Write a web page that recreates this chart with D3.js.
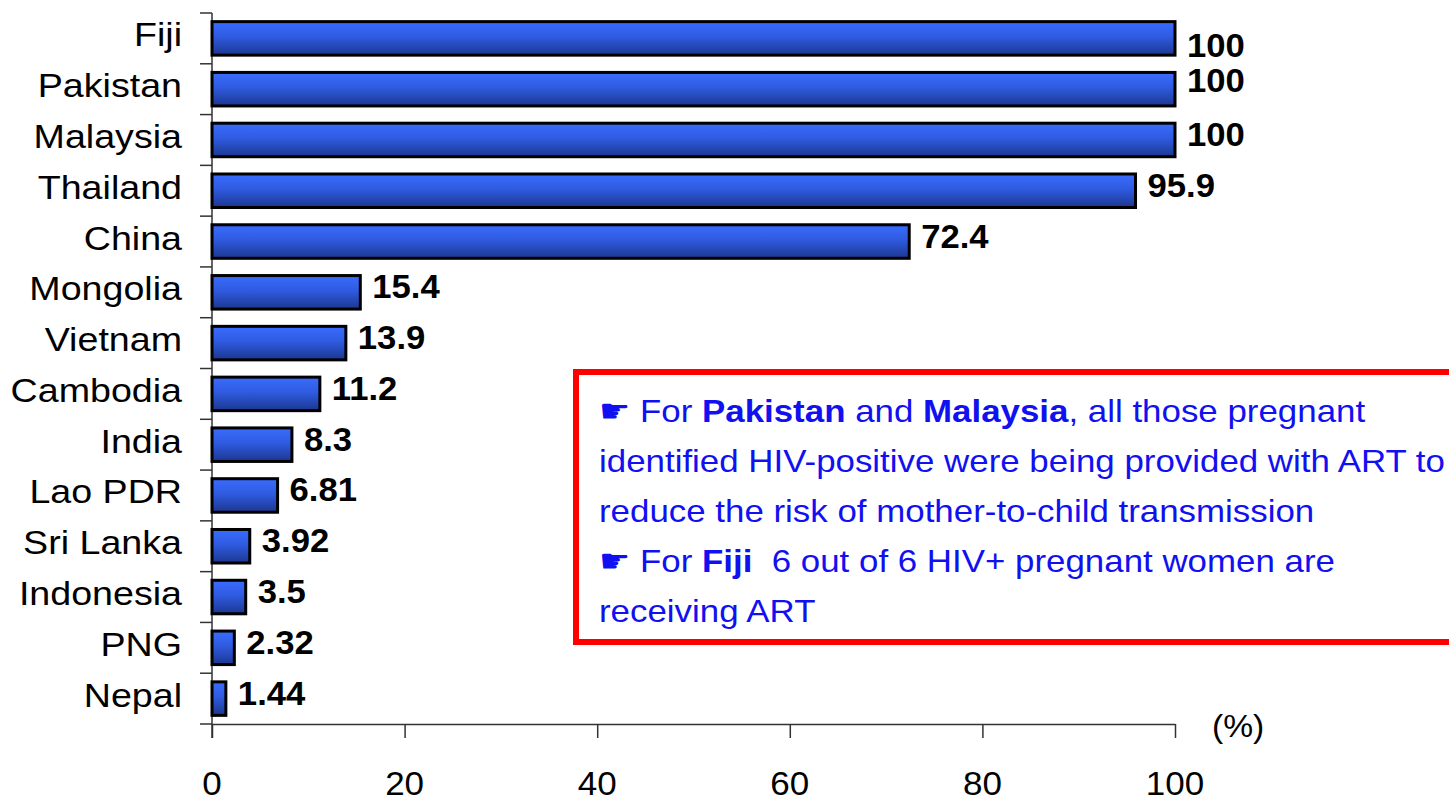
<head>
<script src="https://d3js.org/d3.v7.min.js"></script>
<style>
  body { margin: 0; background: #fff; }
  text { font-family: "Liberation Sans", Arial, sans-serif; }
  .axis line, .axis path { stroke: #333; stroke-width: 1.5; }
</style>
</head>
<body>
<script>
  // data
  const countries = ['Fiji', 'Pakistan', 'Malaysia', 'Thailand', 'China', 'Mongolia', 'Vietnam',
    'Cambodia', 'India', 'Lao PDR', 'Sri Lanka', 'Indonesia', 'PNG', 'Nepal']
  const values = [100, 100, 100, 95.9, 72.4, 15.4, 13.9, 11.2, 8.3, 6.81, 3.92, 3.5, 2.32, 1.44]
  const valueLabels = ['100', '100', '100', '95.9', '72.4', '15.4', '13.9', '11.2', '8.3', '6.81', '3.92', '3.5', '2.32', '1.44']
  const xTicks = [0, 20, 40, 60, 80, 100]
  const unitLabel = '(%)'
  const noteLines = [
    [['☛ For ', false], ['Pakistan', true], [' and ', false], ['Malaysia', true], [', all those pregnant', false]],
    [['identified HIV-positive were being provided with ART to', false]],
    [['reduce the risk of mother-to-child transmission', false]],
    [['☛ For ', false], ['Fiji', true], ['  6 out of 6 HIV+ pregnant women are', false]],
    [['receiving ART', false]]
  ]

  const data = countries.map((c, i) => ({country: c, value: values[i], label: valueLabels[i]}))

  const W = 1449, H = 802
  const svg = d3.select('body').append('svg').attr('width', W).attr('height', H)

  const defs = svg.append('defs')
  const grad = defs.append('linearGradient').attr('id', 'barGrad')
    .attr('x1', 0).attr('y1', 0).attr('x2', 0).attr('y2', 1)
  grad.append('stop').attr('offset', '0%').attr('stop-color', '#3a6cff')
  grad.append('stop').attr('offset', '45%').attr('stop-color', '#2f5be0')
  grad.append('stop').attr('offset', '100%').attr('stop-color', '#1c3790')

  const x = d3.scaleLinear().domain([0, 100]).range([212, 1175])
  const y = d3.scaleBand().domain(countries).range([13, 724])
    .paddingInner(0.34).paddingOuter(0.17)
  const step = y.step()
  const cy = d => y(d) + y.bandwidth() / 2

  // y axis: line plus ticks at band boundaries
  const yAxis = svg.append('g').attr('class', 'axis')
  yAxis.append('line').attr('x1', x(0)).attr('x2', x(0)).attr('y1', 13).attr('y2', 738)
  yAxis.selectAll('line.tick')
    .data(d3.range(countries.length + 1))
    .enter().append('line').attr('class', 'tick')
    .attr('x1', x(0) - 12).attr('x2', x(0))
    .attr('y1', i => 13 + i * step).attr('y2', i => 13 + i * step)

  // x axis
  const xAxis = svg.append('g').attr('class', 'axis')
    .attr('transform', 'translate(0,724)')
    .call(d3.axisBottom(x).tickValues(xTicks).tickSize(14).tickSizeOuter(0).tickFormat(''))
  xAxis.select('.domain').attr('stroke', '#333')

  svg.append('g').selectAll('text')
    .data(xTicks)
    .enter().append('text')
    .attr('transform', d => 'translate(' + x(d) + ',795) scale(1.03,1)')
    .attr('text-anchor', 'middle')
    .style('font-size', '34px')
    .text(d => d)

  svg.append('text')
    .attr('transform', 'translate(1212,737) scale(1.05,1)')
    .style('font-size', '32px')
    .text(unitLabel)

  // bars
  svg.append('g').selectAll('rect')
    .data(data)
    .enter().append('rect')
    .attr('x', x(0))
    .attr('y', d => y(d.country))
    .attr('width', d => x(d.value) - x(0))
    .attr('height', y.bandwidth())
    .attr('fill', 'url(#barGrad)')
    .attr('stroke', '#000')
    .attr('stroke-width', 3)

  // category labels
  svg.append('g').selectAll('text')
    .data(data)
    .enter().append('text')
    .attr('transform', d => 'translate(182,' + (cy(d.country) + 8) + ') scale(1.14,1)')
    .attr('text-anchor', 'end')
    .style('font-size', '33px')
    .text(d => d.country)

  // value labels (the two top labels were spread apart in the original)
  const nudge = {Fiji: 13, Pakistan: -3}
  svg.append('g').selectAll('text')
    .data(data)
    .enter().append('text')
    .attr('transform', d => 'translate(' + (x(d.value) + 12) + ',' +
      (cy(d.country) + 6 + (nudge[d.country] || 0)) + ') scale(1.05,1)')
    .style('font-size', '33px')
    .style('font-weight', 'bold')
    .text(d => d.label)

  // note box
  svg.append('rect')
    .attr('x', 576).attr('y', 372).attr('width', 900).attr('height', 270)
    .attr('fill', '#fff').attr('stroke', '#ff0000').attr('stroke-width', 6)

  const note = svg.append('g')
  note.selectAll('text')
    .data(noteLines)
    .enter().append('text')
    .attr('transform', (d, i) => 'translate(599,' + (422 + i * 50) + ') scale(1.09,1)')
    .style('font-size', '32px')
    .attr('fill', '#1010f0')
    .selectAll('tspan')
    .data(d => d)
    .enter().append('tspan')
    .style('font-weight', d => d[1] ? 'bold' : 'normal')
    .style('white-space', 'pre')
    .text(d => d[0])
</script>
</body>
